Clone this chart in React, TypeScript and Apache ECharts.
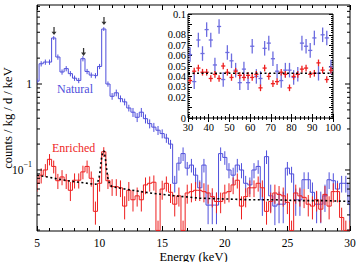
import React, { useEffect, useRef } from 'react';
import * as echarts from 'echarts';

const FONT = 'Liberation Serif';
const BLUE = '#4f4fdc';
const RED = '#ee1f1f';
const INSET_BLUE = '#6d6de0';

// Main spectrum: bins of 1/3 keV centred on binStart + i*binWidth
const binStart = 5;
const binWidth = 1 / 3;
const naturalCounts = [
  1.08, 1.72, 1.8, 1.8, 3.43, 2.06, 1.38, 1.51, 1.32, 1.17,
  1.1, 1.97, 1.4, 1.27, 1.25, 1.6, 4.36, 1.0, 0.72, 0.79,
  0.675, 0.62, 0.526, 0.47, 0.41, 0.47, 0.395, 0.346, 0.315, 0.29,
  0.265, 0.235, 0.2, 0.07, 0.12, 0.155, 0.105, 0.114, 0.087, 0.062,
  0.114, 0.039, 0.039, 0.039, 0.155, 0.14, 0.1, 0.087, 0.114, 0.1,
  0.07, 0.067, 0.1, 0.11, 0.045, 0.143, 0.05, 0.038, 0.04, 0.04,
  0.105, 0.09, 0.045, 0.045, 0.077, 0.077, 0.055, 0.04, 0.04, 0.05,
  0.077, 0.075, 0.06, 0.07, 0.07, 0.041,
];
const naturalRelErr = [
  0.07, 0.07, 0.07, 0.07, 0.05, 0.07, 0.07, 0.07, 0.07, 0.07,
  0.07, 0.07, 0.07, 0.07, 0.07, 0.07, 0.05, 0.07, 0.09, 0.09,
  0.09, 0.09, 0.09, 0.12, 0.12, 0.12, 0.12, 0.12, 0.12, 0.12,
  0.12, 0.12, 0.12, 0.22, 0.18, 0.18, 0.18, 0.18, 0.22, 0.22,
  0.18, 0.4, 0.4, 0.4, 0.18, 0.18, 0.2, 0.22, 0.18, 0.2,
  0.22, 0.22, 0.2, 0.18, 0.35, 0.18, 0.35, 0.4, 0.4, 0.4,
  0.18, 0.21, 0.35, 0.35, 0.22, 0.22, 0.3, 0.4, 0.4, 0.35,
  0.22, 0.22, 0.25, 0.22, 0.22, 0.4,
];
const enrichedCounts = [
  0.07, 0.087, 0.1, 0.133, 0.11, 0.075, 0.083, 0.075, 0.058, 0.076,
  0.076, 0.095, 0.11, 0.08, 0.033, 0.07, 0.163, 0.075, 0.064, 0.064,
  0.062, 0.038, 0.058, 0.045, 0.05, 0.045, 0.067, 0.07, 0.072, 0.0198,
  0.06, 0.07, 0.055, 0.04, 0.05, 0.0198, 0.054, 0.056, 0.058, 0.058,
  0.056, 0.054, 0.049, 0.043, 0.043, 0.054, 0.056, 0.067, 0.076, 0.038,
  0.049, 0.062, 0.062, 0.07, 0.062, 0.033, 0.043, 0.054, 0.052, 0.05,
  0.042, 0.0198, 0.054, 0.05, 0.048, 0.04, 0.038, 0.045, 0.035, 0.052,
  0.038, 0.056, 0.056, 0.028, 0.0198, 0.0198,
];
const enrichedRelErr = [
  0.2, 0.2, 0.17, 0.15, 0.17, 0.2, 0.2, 0.2, 0.25, 0.2,
  0.2, 0.18, 0.17, 0.2, 0.3, 0.2, 0.13, 0.2, 0.22, 0.22,
  0.22, 0.3, 0.25, 0.27, 0.25, 0.27, 0.22, 0.2, 0.2, 0.3,
  0.25, 0.2, 0.25, 0.28, 0.25, 0.3, 0.25, 0.25, 0.25, 0.25,
  0.25, 0.25, 0.25, 0.27, 0.27, 0.25, 0.25, 0.22, 0.2, 0.3,
  0.25, 0.22, 0.22, 0.2, 0.22, 0.3, 0.27, 0.25, 0.25, 0.25,
  0.27, 0.3, 0.25, 0.25, 0.25, 0.28, 0.3, 0.27, 0.3, 0.25,
  0.3, 0.25, 0.25, 0.3, 0.3, 0.3,
];

// Background fit (dotted)
const fitEnergy = [5, 6, 7, 8, 9, 9.6, 9.8, 9.95, 10.05, 10.15, 10.25, 10.35, 10.45, 10.55, 10.65, 10.8, 11, 12, 13, 14, 15, 16, 18, 20, 22, 24, 26, 28, 30];
const fitValue = [0.087, 0.082, 0.077, 0.073, 0.07, 0.068, 0.069, 0.08, 0.1, 0.135, 0.162, 0.167, 0.14, 0.105, 0.082, 0.068, 0.064, 0.06, 0.057, 0.054, 0.052, 0.05, 0.047, 0.046, 0.045, 0.045, 0.044, 0.044, 0.043];

// Arrows marking peaks
const arrowEnergy = [6.36, 8.72, 10.35];
const arrowValue = [4.13, 2.36, 5.4];

// Log axis tick values (major + minor)
const yMajorTicks = [0.1, 1];
const yMinorTicks = [0.02, 0.03, 0.04, 0.05, 0.06, 0.07, 0.08, 0.09, 0.2, 0.3, 0.4, 0.5, 0.6, 0.7, 0.8, 0.9, 2, 3, 4, 5, 6, 7, 8];

// Inset 30-100 keV
const insetEnergy = [31, 33, 35, 37, 39, 41, 43, 45, 47, 49, 51, 53, 55, 57, 59, 61, 63, 65, 67, 69, 71, 73, 75, 77, 79, 81, 83, 85, 87, 89, 91, 93, 95, 97, 99];
const insetNatural = [0.061, 0.035, 0.075, 0.062, 0.085, 0.075, 0.051, 0.088, 0.037, 0.063, 0.055, 0.046, 0.034, 0.047, 0.034, 0.069, 0.04, 0.038, 0.067, 0.072, 0.057, 0.045, 0.036, 0.046, 0.046, 0.039, 0.042, 0.072, 0.069, 0.065, 0.077, 0.043, 0.08, 0.077, 0.049];
const insetEnriched = [0.036, 0.045, 0.048, 0.044, 0.044, 0.038, 0.042, 0.038, 0.05, 0.044, 0.039, 0.045, 0.041, 0.039, 0.041, 0.039, 0.042, 0.029, 0.048, 0.04, 0.033, 0.035, 0.044, 0.042, 0.029, 0.04, 0.042, 0.047, 0.048, 0.042, 0.043, 0.053, 0.046, 0.037, 0.046];
const insetNaturalErr = 0.007;
const insetEnrichedErr = 0.0032;
const insetHalfBin = 1;
const insetFit = 0.043;

function buildOption() {
  const centers = naturalCounts.map((_, i) => binStart + i * binWidth);
  const natLine = centers.map((c, i) => [c, naturalCounts[i]]);
  const enrLine = centers.map((c, i) => [c, enrichedCounts[i]]);
  const natErr = centers.map((c, i) => [c, naturalCounts[i] * (1 - naturalRelErr[i]), naturalCounts[i] * (1 + naturalRelErr[i])]);
  const enrErr = centers.map((c, i) => [c, enrichedCounts[i] * (1 - enrichedRelErr[i]), enrichedCounts[i] * (1 + enrichedRelErr[i])]);
  const fit = fitEnergy.map((e, i) => [e, fitValue[i]]);
  const arrows = arrowEnergy.map((e, i) => [e, arrowValue[i]]);
  const yTicks = [
    ...yMajorTicks.map((v) => [5, v, 1]),
    ...yMinorTicks.map((v) => [5, v, 0]),
  ];

  const errRender = (color: string) => (params: any, api: any) => {
    const x = api.value(0);
    const p1 = api.coord([x, api.value(1)]);
    const p2 = api.coord([x, api.value(2)]);
    return {
      type: 'line',
      shape: { x1: p1[0], y1: p1[1], x2: p2[0], y2: p2[1] },
      style: { stroke: color, lineWidth: 1 },
    };
  };

  const insetRender = (color: string) => (params: any, api: any) => {
    const x = api.value(0);
    const y = api.value(1);
    const e = api.value(2);
    const c = api.coord([x, y]);
    const t = api.coord([x, y + e]);
    const b = api.coord([x, y - e]);
    const l = api.coord([x - insetHalfBin, y]);
    const r = api.coord([x + insetHalfBin, y]);
    return {
      type: 'group',
      children: [
        { type: 'line', shape: { x1: c[0], y1: t[1], x2: c[0], y2: b[1] }, style: { stroke: color, lineWidth: 1.3 } },
        { type: 'line', shape: { x1: l[0], y1: c[1], x2: r[0], y2: c[1] }, style: { stroke: color, lineWidth: 1.3 } },
      ],
    };
  };

  const tickStyle = { color: '#000', width: 1 };
  const mainX = (pos: 'bottom' | 'top') => ({
    type: 'value',
    gridIndex: 0,
    position: pos,
    min: 5,
    max: 30,
    interval: 5,
    axisLine: { show: false },
    axisTick: { show: true, inside: true, length: 5, lineStyle: tickStyle },
    minorTick: { show: true, splitNumber: 5, length: 3, lineStyle: tickStyle },
    splitLine: { show: false },
    minorSplitLine: { show: false },
    axisLabel: pos === 'bottom'
      ? { show: true, color: '#000', fontFamily: FONT, fontSize: 11.5, margin: 6, showMinLabel: true, showMaxLabel: true }
      : { show: false },
    name: pos === 'bottom' ? 'Energy (keV)' : '',
    nameLocation: 'middle',
    nameGap: 19,
    nameMoveOverlap: false,
    nameTextStyle: { color: '#000', fontFamily: FONT, fontSize: 12.5 },
  });
  const insetX = (pos: 'bottom' | 'top') => ({
    type: 'value',
    gridIndex: 1,
    position: pos,
    min: 30,
    max: 100,
    interval: 10,
    axisLine: { show: false },
    axisTick: { show: true, inside: true, length: 4, lineStyle: tickStyle },
    minorTick: { show: true, splitNumber: 5, length: 2, lineStyle: tickStyle },
    splitLine: { show: false },
    minorSplitLine: { show: false },
    axisLabel: pos === 'bottom'
      ? { show: true, color: '#000', fontFamily: FONT, fontSize: 10.5, margin: 4, showMinLabel: true, showMaxLabel: true, hideOverlap: false }
      : { show: false },
  });
  const insetY = (pos: 'left' | 'right') => ({
    type: 'value',
    gridIndex: 1,
    position: pos,
    min: 0,
    max: 0.1,
    interval: 0.01,
    axisLine: { show: false },
    axisTick: { show: true, inside: true, length: 4, lineStyle: tickStyle },
    minorTick: { show: true, splitNumber: 5, length: 2, lineStyle: tickStyle },
    splitLine: { show: false },
    minorSplitLine: { show: false },
    axisLabel: pos === 'left'
      ? {
          show: true, color: '#000', fontFamily: FONT, fontSize: 10.5, margin: 2,
          showMinLabel: true, showMaxLabel: true, hideOverlap: false,
          formatter: (v: number) => (v === 0 ? '0' : String(+v.toFixed(2))),
        }
      : { show: false },
  });

  return {
    animation: false,
    backgroundColor: '#fff',
    textStyle: { fontFamily: FONT },
    grid: [
      { left: 37, top: 5, width: 313, height: 226, show: true, borderColor: '#000', borderWidth: 1, backgroundColor: 'transparent', containLabel: false, outerBoundsMode: 'none' },
      { left: 188, top: 14, width: 145, height: 104, show: true, borderColor: '#000', borderWidth: 1, backgroundColor: '#fff', containLabel: false, outerBoundsMode: 'none' },
    ],
    xAxis: [mainX('bottom'), mainX('top'), insetX('bottom'), insetX('top')],
    yAxis: [
      {
        type: 'log',
        logBase: 10,
        gridIndex: 0,
        min: 0.0195,
        max: 8.3,
        axisLine: { show: false },
        axisTick: { show: false },
        splitLine: { show: false },
        axisLabel: {
          color: '#000',
          fontFamily: FONT,
          fontSize: 11.5,
          margin: 5,
          formatter: (v: number) => {
            const e = Math.round(Math.log10(v) * 1000) / 1000;
            if (e === 0) return '1';
            if (e === -1) return '{m|10}{s|−1}';
            return '';
          },
          rich: {
            m: { fontFamily: FONT, fontSize: 11.5, lineHeight: 18, color: '#000' },
            s: { fontFamily: FONT, fontSize: 8, verticalAlign: 'top', color: '#000' },
          },
        },
        name: 'counts / kg / d / keV',
        nameLocation: 'middle',
        nameGap: 23,
        nameMoveOverlap: false,
        nameTextStyle: { color: '#000', fontFamily: FONT, fontSize: 12.5 },
      },
      insetY('left'),
      insetY('right'),
    ],
    graphic: [
      { type: 'text', left: 57, top: 83, style: { text: 'Natural', fill: BLUE, fontFamily: FONT, fontSize: 12 } },
      { type: 'text', left: 52, top: 142, style: { text: 'Enriched', fill: RED, fontFamily: FONT, fontSize: 12 } },
    ],
    series: [
      {
        type: 'line', xAxisIndex: 0, yAxisIndex: 0, data: natLine, step: 'middle', symbol: 'none',
        lineStyle: { color: BLUE, width: 1 }, z: 3,
      },
      {
        type: 'custom', xAxisIndex: 0, yAxisIndex: 0, data: natErr, renderItem: errRender(BLUE), clip: true, z: 3,
      },
      {
        type: 'line', xAxisIndex: 0, yAxisIndex: 0, data: enrLine, step: 'middle', symbol: 'none',
        lineStyle: { color: RED, width: 1 }, z: 4,
      },
      {
        type: 'custom', xAxisIndex: 0, yAxisIndex: 0, data: enrErr, renderItem: errRender(RED), clip: true, z: 4,
      },
      {
        type: 'line', xAxisIndex: 0, yAxisIndex: 0, data: fit, symbol: 'none',
        lineStyle: { color: '#000', width: 1.6, type: [2, 2.5] }, z: 5,
      },
      {
        type: 'scatter', xAxisIndex: 0, yAxisIndex: 0, data: arrows,
        symbol: 'path://M3,0 L5,0 L5,7 L8,7 L4,12 L0,7 L3,7 Z', symbolSize: [5, 8],
        itemStyle: { color: '#000' }, z: 5,
      },
      {
        type: 'custom', xAxisIndex: 0, yAxisIndex: 0, data: yTicks, z: 6,
        renderItem: (params: any, api: any) => {
          const v = api.value(1);
          const len = api.value(2) ? 5 : 3;
          const pl = api.coord([5, v]);
          const pr = api.coord([30, v]);
          return {
            type: 'group',
            children: [
              { type: 'line', shape: { x1: pl[0], y1: pl[1], x2: pl[0] + len, y2: pl[1] }, style: { stroke: '#000', lineWidth: 1 } },
              { type: 'line', shape: { x1: pr[0] - len, y1: pr[1], x2: pr[0], y2: pr[1] }, style: { stroke: '#000', lineWidth: 1 } },
            ],
          };
        },
      },
      {
        type: 'custom', xAxisIndex: 2, yAxisIndex: 1, clip: true, z: 7,
        data: insetEnergy.map((e, i) => [e, insetNatural[i], insetNaturalErr]),
        renderItem: insetRender(INSET_BLUE),
      },
      {
        type: 'custom', xAxisIndex: 2, yAxisIndex: 1, clip: true, z: 8,
        data: insetEnergy.map((e, i) => [e, insetEnriched[i], insetEnrichedErr]),
        renderItem: insetRender(RED),
      },
      {
        type: 'line', xAxisIndex: 2, yAxisIndex: 1, symbol: 'none', z: 9,
        data: [[30, insetFit], [100, insetFit]],
        lineStyle: { color: '#000', width: 1.6, type: [2, 2.5] },
      },
    ],
  };
}

export default function App() {
  const ref = useRef<HTMLDivElement>(null);
  useEffect(() => {
    if (!ref.current) return;
    const chart = echarts.init(ref.current, null, { renderer: 'svg' });
    chart.setOption(buildOption() as any);
    return () => chart.dispose();
  }, []);
  return <div ref={ref} style={{ position: 'fixed', left: 0, top: 0, width: 357, height: 262 }} />;
}
